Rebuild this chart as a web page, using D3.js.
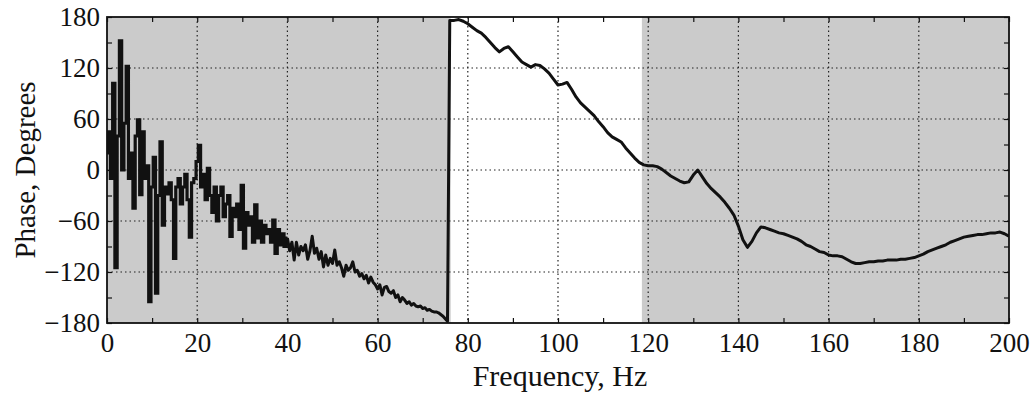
<!DOCTYPE html>
<html>
<head>
<meta charset="utf-8">
<script src="https://cdn.jsdelivr.net/npm/d3@7"></script>
<style>
  html, body { margin: 0; padding: 0; background: #ffffff; }
  svg { display: block; }
  text { font-family: "Liberation Serif", "Times New Roman", serif; fill: #111; }
</style>
</head>
<body>
<svg id="chart" width="1036" height="412"></svg>
<script>
// ---------- data ----------
const xTicks = [0, 20, 40, 60, 80, 100, 120, 140, 160, 180, 200];
const yTicks = [-180, -120, -60, 0, 60, 120, 180];
const xLabel = "Frequency, Hz";
const yLabel = "Phase, Degrees";
// shaded (gray) frequency bands
const shadedBands = [[0, 76.2], [118.6, 200]];
// below this frequency the trace is very noisy (drawn as steps)
const noisyLimit = 40;

// low band: 0 .. 75.5 Hz, 0.5 Hz spacing
const lowStart = 0, lowStep = 0.5;
const lowBandPhase = [
  20, 45, -10, 102, -115, 40, 152, 0, 55, 122,
  -10, 20, -45, 40, 59, -29, 45, -10, 5, -155,
  -20, 15, -145, -30, 33, -65, -20, -28, -15, -35,
  -104, -20, -10, -40, -20, -5, -35, -79, -15, -10,
  10, 29, -20, -5, -35, 2, -30, -50, -20, -60,
  -30, -20, -55, -40, -30, -78, -45, -55, -40, -70,
  -18, -92, -50, -65, -55, -85, -41, -80, -60, -85,
  -65, -75, -70, -85, -59, -98, -70, -88, -75, -90,
  -80, -95, -85, -106, -85, -100, -90, -95, -88, -105,
  -95, -78, -98, -92, -105, -96, -114, -100, -112, -104,
  -110, -94, -112, -108, -115, -125, -112, -118, -115, -108,
  -120, -118, -125, -122, -128, -124, -133, -126, -132, -135,
  -140, -135, -147, -138, -137, -143, -145, -142, -150, -147,
  -155, -150, -153, -157, -155, -159, -157, -160, -161, -160,
  -163, -162, -165, -164, -166, -167, -167, -168, -170, -172,
  -175, -178
];

// high band: 76 .. 200 Hz, 1 Hz spacing
const highStart = 76, highStep = 1;
const highBandPhase = [
  176, 176, 177, 175, 172, 168, 164, 161, 156, 150,
  144, 139, 143, 145, 139, 133, 127, 124, 121, 124,
  123, 119, 114, 107, 100, 101, 103, 95, 86, 79,
  74, 69, 64, 57, 51, 44, 39, 36, 33, 26,
  20, 14, 9, 6, 5, 5, 4, 1, -3, -7,
  -10, -13, -15, -14, -6, 0, -8, -16, -22, -27,
  -32, -38, -45, -53, -66, -82, -91, -84, -74, -67,
  -68, -70, -72, -74, -75, -77, -79, -81, -84, -88,
  -90, -93, -96, -97, -100, -101, -101, -102, -105, -108,
  -110, -110, -109, -108, -108, -107, -107, -106, -106, -106,
  -105, -105, -104, -103, -101, -99, -96, -94, -92, -90,
  -88, -85, -83, -81, -79, -78, -77, -76, -76, -75,
  -74, -74, -73, -75, -78
];

// ---------- layout ----------
const svg = d3.select("#chart");
const plot = { left: 107, right: 1009, top: 17, bottom: 323 };

const x = d3.scaleLinear().domain([0, 200]).range([plot.left, plot.right]);
const y = d3.scaleLinear().domain([-180, 180]).range([plot.bottom, plot.top]);

const lowSeries = lowBandPhase.map((p, i) => ({ f: lowStart + i * lowStep, p }));
const highSeries = highBandPhase.map((p, i) => ({ f: highStart + i * highStep, p }));
const noisyPart = lowSeries.filter(d => d.f <= noisyLimit);
const smoothPart = lowSeries.filter(d => d.f >= noisyLimit).concat(highSeries);

svg.append("defs").append("clipPath").attr("id", "clip")
  .append("rect")
  .attr("x", plot.left).attr("y", plot.top)
  .attr("width", plot.right - plot.left).attr("height", plot.bottom - plot.top);

// shaded bands
svg.append("g").selectAll("rect").data(shadedBands).join("rect")
  .attr("x", d => x(d[0]))
  .attr("y", plot.top)
  .attr("width", d => x(d[1]) - x(d[0]))
  .attr("height", plot.bottom - plot.top)
  .attr("fill", "#cbcbcb");

// grid (dotted)
const grid = svg.append("g");
grid.selectAll("line.vx").data(xTicks.slice(1, -1)).join("line")
  .attr("x1", d => x(d)).attr("x2", d => x(d))
  .attr("y1", plot.top).attr("y2", plot.bottom)
  .attr("stroke", "#222").attr("stroke-width", 1.2)
  .attr("stroke-dasharray", "1.5,3");
grid.selectAll("line.hy").data(yTicks.slice(1, -1)).join("line")
  .attr("y1", d => y(d)).attr("y2", d => y(d))
  .attr("x1", plot.left).attr("x2", plot.right)
  .attr("stroke", "#222").attr("stroke-width", 1.2)
  .attr("stroke-dasharray", "1.5,3");

// inward ticks on all four sides (major + minor)
const xMinor = d3.range(0, 201, 10);
const yMinor = d3.range(-180, 181, 30);
function tickAxis(axisGen, transform) {
  const g = svg.append("g").attr("transform", transform).call(axisGen);
  g.select(".domain").remove();
  g.selectAll("line").attr("stroke", "#111").attr("stroke-width", 1.2);
  return g;
}
tickAxis(d3.axisBottom(x).tickValues(xMinor).tickSize(-5).tickFormat(""), `translate(0,${plot.bottom})`);
tickAxis(d3.axisTop(x).tickValues(xMinor).tickSize(-5).tickFormat(""), `translate(0,${plot.top})`);
tickAxis(d3.axisLeft(y).tickValues(yMinor).tickSize(-5).tickFormat(""), `translate(${plot.left},0)`);
tickAxis(d3.axisRight(y).tickValues(yMinor).tickSize(-5).tickFormat(""), `translate(${plot.right},0)`);

// labelled axes
const xAxis = svg.append("g").attr("transform", `translate(0,${plot.bottom})`)
  .call(d3.axisBottom(x).tickValues(xTicks).tickSize(0).tickPadding(10).tickFormat(d3.format("d")));
xAxis.select(".domain").remove();
xAxis.selectAll("text").attr("font-size", 27).attr("fill", "#111");

const yAxis = svg.append("g").attr("transform", `translate(${plot.left},0)`)
  .call(d3.axisLeft(y).tickValues(yTicks).tickSize(0).tickPadding(7).tickFormat(d3.format("d")));
yAxis.select(".domain").remove();
yAxis.selectAll("text").attr("font-size", 27).attr("fill", "#111");

// data line
const lineStep = d3.line().x(d => x(d.f)).y(d => y(d.p)).curve(d3.curveStep);
const lineLin = d3.line().x(d => x(d.f)).y(d => y(d.p));
const lines = svg.append("g").attr("clip-path", "url(#clip)");
lines.append("path")
  .datum(noisyPart)
  .attr("d", lineStep)
  .attr("fill", "none")
  .attr("stroke", "#111")
  .attr("stroke-width", 3.2);
lines.append("path")
  .datum(smoothPart)
  .attr("d", lineLin)
  .attr("fill", "none")
  .attr("stroke", "#111")
  .attr("stroke-width", 3)
  .attr("stroke-linejoin", "round");

// frame
svg.append("rect")
  .attr("x", plot.left).attr("y", plot.top)
  .attr("width", plot.right - plot.left).attr("height", plot.bottom - plot.top)
  .attr("fill", "none").attr("stroke", "#111").attr("stroke-width", 1.8);

// axis titles
svg.append("text")
  .attr("x", 560).attr("y", 386)
  .attr("text-anchor", "middle").attr("font-size", 30)
  .text(xLabel);
svg.append("text")
  .attr("transform", `translate(35,${(plot.top + plot.bottom) / 2}) rotate(-90)`)
  .attr("text-anchor", "middle").attr("font-size", 29)
  .text(yLabel);
</script>
</body>
</html>
